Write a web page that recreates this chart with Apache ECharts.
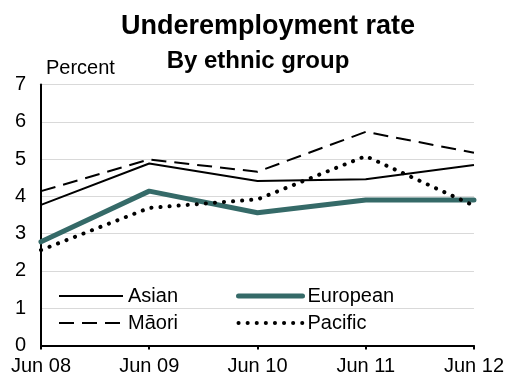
<!DOCTYPE html>
<html>
<head>
<meta charset="utf-8">
<script src="https://cdn.jsdelivr.net/npm/echarts@6/dist/echarts.min.js"></script>
<style>
  html, body { margin: 0; padding: 0; background: #ffffff; }
  #chart { width: 507px; height: 379px; }
</style>
</head>
<body>
<div id="chart"></div>
<script>
// Underemployment rate by ethnic group, June years 2008–2012 (percent)
const categories = ['Jun 08', 'Jun 09', 'Jun 10', 'Jun 11', 'Jun 12'];
const asian    = [3.77, 4.88, 4.41, 4.46, 4.84];
const european = [2.78, 4.14, 3.56, 3.90, 3.90];
const maori    = [4.14, 4.99, 4.66, 5.73, 5.17];
const pacific  = [2.56, 3.69, 3.92, 5.08, 3.75];
const yTicks   = [0, 1, 2, 3, 4, 5, 6, 7];

const FONT = '"Liberation Sans", Arial, sans-serif';

// line looks shared by the plotted series and their legend keys
const styles = {
  Asian:    { color: '#000', width: 2 },
  European: { color: '#356a68', width: 5, cap: 'round' },
  'Māori':  { color: '#000', width: 2, type: [15, 8] },
  Pacific:  { color: '#000', width: 4, type: [0.1, 9], cap: 'round' }
};

const chart = echarts.init(document.getElementById('chart'), null, { renderer: 'canvas' });

const legendText = { fontFamily: FONT, fontSize: 20, color: '#000', lineHeight: 20 };
const legendBase = {
  orient: 'vertical', top: 281,
  itemWidth: 64, itemHeight: 14, itemGap: 7,
  selectedMode: false, textStyle: legendText,
  itemStyle: { opacity: 0 }
};
const legendItem = name => ({ name: name, lineStyle: Object.assign({}, styles[name]) });

function lineSeries(name, values) {
  return {
    name: name, type: 'line', data: values, symbol: 'none',
    lineStyle: Object.assign({}, styles[name]),
    itemStyle: { color: styles[name].color }
  };
}

chart.setOption({
  animation: false,
  backgroundColor: '#ffffff',
  textStyle: { fontFamily: FONT },
  title: [
    {
      text: 'Underemployment rate',
      left: 263, top: 8, textAlign: 'center',
      textStyle: { fontFamily: FONT, fontSize: 27, fontWeight: 'bold', color: '#000' }
    },
    {
      text: 'By ethnic group',
      left: 253, top: 44, textAlign: 'center',
      textStyle: { fontFamily: FONT, fontSize: 24, fontWeight: 'bold', color: '#000' }
    }
  ],
  graphic: [
    {
      type: 'text', left: 46, top: 58,
      style: { text: 'Percent', font: '20px ' + FONT, fill: '#000' }
    }
  ],
  legend: [
    Object.assign({ left: 53, data: [legendItem('Asian'), legendItem('Māori')] }, legendBase),
    Object.assign({ left: 231, data: [legendItem('European'), legendItem('Pacific')] }, legendBase)
  ],
  grid: { left: 41, right: 30, top: 84.5, bottom: 33.5, containLabel: false },
  xAxis: {
    type: 'category',
    data: categories,
    boundaryGap: false,
    axisLine: { show: true, lineStyle: { color: '#000', width: 2 } },
    axisTick: { show: true, length: 4, lineStyle: { color: '#000', width: 2 } },
    axisLabel: { fontFamily: FONT, fontSize: 20, color: '#000', margin: 11 },
    splitLine: { show: false }
  },
  yAxis: {
    type: 'value',
    min: yTicks[0], max: yTicks[yTicks.length - 1], interval: 1,
    axisLine: { show: true, lineStyle: { color: '#000', width: 2 } },
    axisTick: { show: false },
    axisLabel: { fontFamily: FONT, fontSize: 20, color: '#000', margin: 15 },
    splitLine: { show: true, lineStyle: { color: '#d9d9d9', width: 1 } }
  },
  series: [
    lineSeries('Asian', asian),
    lineSeries('European', european),
    lineSeries('Māori', maori),
    lineSeries('Pacific', pacific)
  ]
});
</script>
</body>
</html>
